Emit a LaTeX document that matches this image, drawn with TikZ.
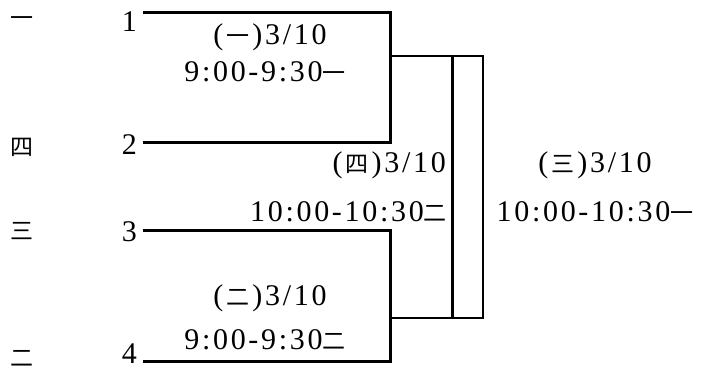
\documentclass[tikz,border=0pt]{standalone}
\usepackage{fontspec}
\setmainfont{Liberation Serif}
\newfontfamily\spc[LetterSpace=9]{Liberation Serif}
\newfontfamily\cjk{Noto Sans CJK SC}
\newcommand{\cj}[1]{{\cjk\fontsize{23}{26}\selectfont #1}}
\newcommand{\pc}[1]{(\hspace{3pt}\cj{#1}\hspace{3pt})}
\begin{document}
\begin{tikzpicture}[x=1pt,y=-1pt,
  thick line/.style={line width=3pt},
  thin line/.style={line width=2pt},
  lbl/.style={inner sep=0pt,font=\spc\fontsize{30}{34}\selectfont},
  side/.style={inner sep=0pt,font=\fontsize{28}{34}\selectfont},
]
\useasboundingbox (0,0) rectangle (704,371);
% left labels
\node[side] (c1) at (22,22) {\cj{一}};
\node[side] (c2) at (22,147) {\cj{四}};
\node[side] (c3) at (22,231) {\cj{三}};
\node[side] (c4) at (22,358) {\cj{二}};
% numbers
\node[lbl,anchor=east] (n1) at (137,22) {1};
\node[lbl,anchor=east] (n2) at (137,145) {2};
\node[lbl,anchor=east] (n3) at (137,232) {3};
\node[lbl,anchor=east] (n4) at (137,354) {4};
% coordinates
\coordinate (p1) at (143,13);
\coordinate (b1t) at (390,13);
\coordinate (b1b) at (390,143);
\coordinate (p2) at (143,143);
\coordinate (p3) at (143,231);
\coordinate (b2t) at (390,231);
\coordinate (b2b) at (390,361);
\coordinate (p4) at (143,361);
\coordinate (m1) at (390,56);
\coordinate (m2) at (390,318);
\coordinate (r1t) at (483,56);
\coordinate (r1b) at (483,318);
\coordinate (v1t) at (452,57);
\coordinate (v1b) at (452,318);
% brackets
\draw[thick line,line join=miter] (p1) -- (b1t) -- (b1b) -- (p2);
\draw[thick line,line join=miter] (p3) -- (b2t) -- (b2b) -- (p4);
\draw[thin line,line join=miter] (m1) -- (r1t) -- (r1b) -- (m2);
\draw[thick line] (v1t) -- (v1b);
% texts
\node[lbl] (t1a) at (270,37) {\pc{一}3/10};
\node[lbl] (t1b) at (265,72) {9:00-9:30\cj{一}};
\node[lbl,anchor=east] (t4a) at (446,165) {\pc{四}3/10};
\node[lbl,anchor=east] (t4b) at (447,212) {10:00-10:30\cj{二}};
\node[lbl] (t2a) at (270,298) {\pc{二}3/10};
\node[lbl] (t2b) at (265,340) {9:00-9:30\cj{二}};
\node[lbl] (t3a) at (595,165) {\pc{三}3/10};
\node[lbl] (t3b) at (595,212) {10:00-10:30\cj{一}};
\end{tikzpicture}
\end{document}
